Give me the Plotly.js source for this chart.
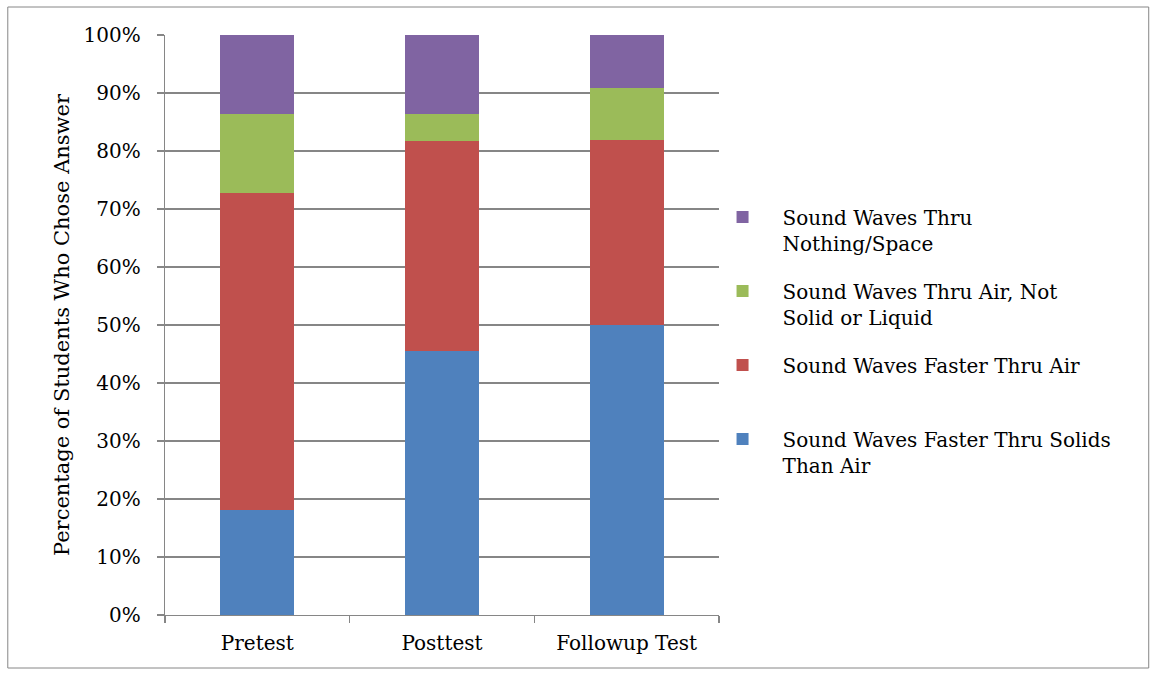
<!DOCTYPE html>
<html><head><meta charset="utf-8">
<script src="https://cdn.plot.ly/plotly-3.0.1.min.js"></script>
<style>body{margin:0;padding:0;background:#fff}#chart{width:1157px;height:675px}</style>
</head><body><div id="chart"></div>
<script>
const categories = ['Pretest', 'Posttest', 'Followup Test'];
const seriesNames = ['Sound Waves Faster Thru Solids<br>Than Air', 'Sound Waves Faster Thru Air<br> ', 'Sound Waves Thru Air, Not<br>Solid or Liquid', 'Sound Waves Thru<br>Nothing/Space'];
const solidsFaster = [18.18, 45.45, 50.0];
const airFaster = [54.55, 36.36, 31.82];
const airOnly = [13.64, 4.55, 9.09];
const nothingSpace = [13.64, 13.64, 9.09];
const colors = ['#4F81BD', '#C0504D', '#9BBB59', '#8064A2'];
const seriesValues = [solidsFaster, airFaster, airOnly, nothingSpace];

const traces = seriesValues.map((v, i) => ({
  type: 'bar', x: categories, y: v, name: seriesNames[i],
  marker: {color: colors[i]}, legendgroup: 'g' + i, legendrank: 1000 - i, hoverinfo: 'none'
}));

const fam = 'DejaVu Serif';
const layout = {
  width: 1157, height: 675,
  margin: {l: 164.5, r: 437.5, t: 35, b: 60},
  barmode: 'stack', bargap: 0.6,
  paper_bgcolor: '#fff', plot_bgcolor: '#fff',
  font: {family: fam, size: 20, color: '#000'},
  showlegend: true,
  legend: {x: 0.9703, xanchor: 'left', y: 0.72, yanchor: 'top', traceorder: 'grouped',
    bgcolor: 'rgba(0,0,0,0)',
    tracegroupgap: 19, font: {family: fam, size: 20, color: '#000'}, itemwidth: 70, valign: 'top'},
  xaxis: {type: 'category', showline: true, linecolor: '#868686', linewidth: 1.3,
    ticks: 'outside', tickson: 'boundaries', ticklen: 7, tickcolor: '#868686', tickwidth: 1.3,
    ticklabelstandoff: 10,
    tickfont: {family: fam, size: 20, color: '#000'}, showgrid: false},
  yaxis: {range: [0, 100], dtick: 10, ticksuffix: '%', showline: true, linecolor: '#868686', linewidth: 1.3,
    ticks: 'outside', ticklen: 7, tickcolor: '#868686', tickwidth: 1.3,
    ticklabelstandoff: 12,
    gridcolor: '#868686', gridwidth: 1.3, zeroline: false,
    tickfont: {family: fam, size: 20, color: '#000'},
    title: {text: 'Percentage of Students Who Chose Answer', standoff: 8,
      font: {family: fam, size: 21, color: '#000'}}},
  shapes: [{type: 'rect', xref: 'paper', yref: 'paper',
    x0: (7 - 164.5) / 555, x1: (1150 - 164.5) / 555,
    y0: (615 - 668) / 580, y1: (615 - 7) / 580,
    line: {color: '#868686', width: 1}, fillcolor: 'rgba(0,0,0,0)', layer: 'below'}]
};
Plotly.newPlot('chart', traces, layout, {displayModeBar: false, staticPlot: true});
</script></body></html>
